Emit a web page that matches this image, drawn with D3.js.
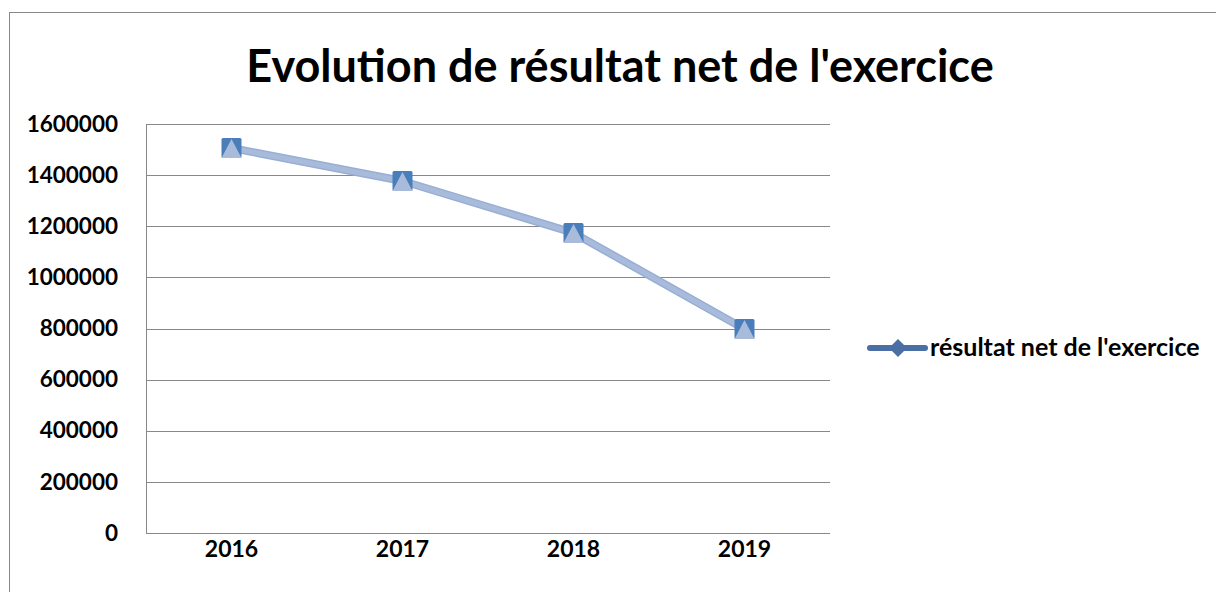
<!DOCTYPE html>
<html>
<head>
<meta charset="utf-8">
<script src="https://cdn.jsdelivr.net/npm/d3@7"></script>
<style>
  body { margin: 0; background: #fff; }
  svg { display: block; font-family: Lato, "Open Sans", sans-serif; }
</style>
</head>
<body>
<svg id="chart" width="1216" height="592"></svg>
<script>
// Data
const years = ["2016", "2017", "2018", "2019"];
const resultat = [1506000, 1377000, 1174000, 798000];
const yTicks = [0, 200000, 400000, 600000, 800000, 1000000, 1200000, 1400000, 1600000];
const seriesName = "résultat net de l'exercice";
const chartTitle = "Evolution de résultat net de l'exercice";

const svg = d3.select("#chart");

// outer chart frame
svg.append("rect")
    .attr("x", 9.5).attr("y", 12.5)
    .attr("width", 1230).attr("height", 600)
    .attr("fill", "#fff").attr("stroke", "#888").attr("stroke-width", 1);

const plot = { left: 146, right: 830, top: 124, bottom: 533 };

const x = d3.scaleBand().domain(years).range([plot.left, plot.right]);
const y = d3.scaleLinear().domain([0, 1600000]).range([plot.bottom, plot.top]);

// title
svg.append("text")
    .attr("x", 620).attr("y", 82)
    .attr("text-anchor", "middle")
    .style("font-size", "45px").style("font-weight", "bold")
    .attr("fill", "#000")
    .text(chartTitle);

// gridlines
svg.append("g").selectAll("line").data(yTicks).enter().append("line")
    .attr("x1", plot.left).attr("x2", plot.right)
    .attr("y1", d => Math.round(y(d)) + 0.5).attr("y2", d => Math.round(y(d)) + 0.5)
    .attr("stroke", "#888").attr("stroke-width", 1);

// left axis line
svg.append("line")
    .attr("x1", plot.left + 0.5).attr("x2", plot.left + 0.5)
    .attr("y1", plot.top).attr("y2", plot.bottom)
    .attr("stroke", "#888");

// y axis labels
const yAxis = d3.axisLeft(y).tickValues(yTicks).tickSize(0).tickPadding(28).tickFormat(d3.format("d"));
const gy = svg.append("g").attr("transform", `translate(${plot.left},0)`).call(yAxis);
gy.select(".domain").remove();
gy.selectAll("text").style("font-size", "22.5px").style("font-weight", "bold")
    .attr("fill", "#000").style("font-family", "Lato, sans-serif");

// x axis labels
const xAxis = d3.axisBottom(x).tickSize(0).tickPadding(8);
const gx = svg.append("g").attr("transform", `translate(0,${plot.bottom})`).call(xAxis);
gx.select(".domain").remove();
gx.selectAll("text").style("font-size", "23px").style("font-weight", "bold")
    .attr("fill", "#000").style("font-family", "Lato, sans-serif");

// series line
const pts = years.map((yr, i) => [x(yr) + x.bandwidth() / 2, y(resultat[i])]);
const line = d3.line();
svg.append("path").attr("d", line(pts))
    .attr("fill", "none").attr("stroke", "#98aed4").attr("stroke-width", 8)
    .attr("stroke-linejoin", "round");
svg.append("path").attr("d", line(pts))
    .attr("fill", "none").attr("stroke", "#a9bbdb").attr("stroke-width", 5)
    .attr("stroke-linejoin", "round");

// markers: dark square with light triangle on top
const mk = svg.append("g").selectAll("g").data(pts).enter().append("g")
    .attr("transform", d => `translate(${d[0]},${d[1]})`);
mk.append("rect")
    .attr("x", -10).attr("y", -10).attr("width", 20).attr("height", 20)
    .attr("rx", 1.5).attr("fill", "#4a7ebb");
mk.append("path")
    .attr("d", "M0,-9 L10,10 L-10,10 Z")
    .attr("fill", "#a9bbdb");

// legend
const lg = svg.append("g").attr("transform", "translate(870,348)");
lg.append("line").attr("x1", 0).attr("x2", 55).attr("y1", 0).attr("y2", 0)
    .attr("stroke", "#4a6fa5").attr("stroke-width", 6).attr("stroke-linecap", "round");
lg.append("path").attr("d", "M28,-9 L37,0 L28,9 L19,0 Z").attr("fill", "#4a6fa5");
lg.append("text").attr("x", 60).attr("y", 8)
    .style("font-size", "25px").style("font-weight", "bold").attr("fill", "#000")
    .text(seriesName);
</script>
</body>
</html>
